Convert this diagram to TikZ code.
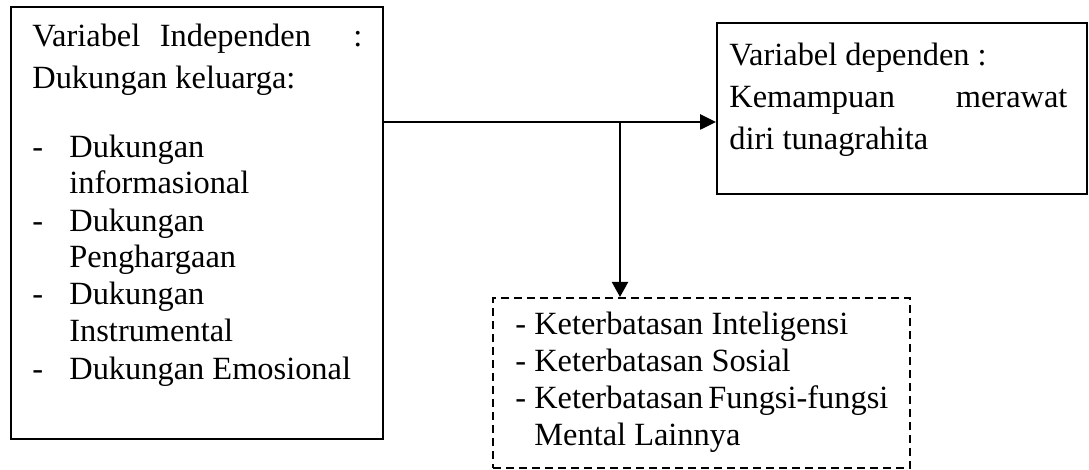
\documentclass[tikz,border=0pt]{standalone}
\usepackage{fontspec}
\setmainfont{Liberation Serif}
\usetikzlibrary{arrows.meta}
\newcommand{\tnrfont}{\fontsize{16.2pt}{18.5pt}\selectfont}
\tikzset{
  box/.style={draw=black, line width=1pt, rectangle, inner sep=0pt, fill=none},
  dbox/.style={box, dash pattern=on 4pt off 2.5pt},
  txt/.style={anchor=base west, inner sep=0pt, font=\tnrfont, text=black},
  conn/.style={draw=black, line width=1.3pt},
  vconn/.style={draw=black, line width=1pt},
  tip/.style={-{Triangle[length=8pt,width=7.5pt]}}
}
\begin{document}
\begin{tikzpicture}[x=0.5pt, y=-0.5pt]
\useasboundingbox (0,0) rectangle (1089,470);
% boxes
\node[box, minimum width=186pt, minimum height=216pt] (lb) at (197,223) {};
\node[box, minimum width=185pt, minimum height=85.5pt] (rb) at (902,108.5) {};
\node[dbox, minimum width=208.5pt, minimum height=85pt] (db) at (701.5,383) {};
% left box text
\node[txt] (l1) at (32,47) {\makebox[165pt][l]{Variabel\hspace{9.75pt}Independen\hfill:}};
\node[txt] (l2) at (32,89) {Dukungan keluarga:};
\node[txt] (d1) at (32,158) {-};
\node[txt] (l3) at (69,158) {Dukungan};
\node[txt] (l4) at (69,194) {informasional};
\node[txt] (d2) at (32,232) {-};
\node[txt] (l5) at (69,232) {Dukungan};
\node[txt] (l6) at (69,268) {Penghargaan};
\node[txt] (d3) at (32,305) {-};
\node[txt] (l7) at (69,305) {Dukungan};
\node[txt] (l8) at (69,342) {Instrumental};
\node[txt] (d4) at (32,380) {-};
\node[txt] (l9) at (69,380) {Dukungan Emosional};
% right box text
\node[txt] (r1) at (729,66) {Variabel dependen :};
\node[txt] (r2) at (729,108) {\makebox[169pt][l]{Kemampuan\hfill merawat}};
\node[txt] (r3) at (729,150) {diri tunagrahita};
% dashed box text
\node[txt] (k1) at (515,335) {- Keterbatasan Inteligensi};
\node[txt] (k2) at (515,372) {- Keterbatasan Sosial};
\node[txt] (k3) at (515,409) {\makebox[186.5pt][l]{- Keterbatasan\hfill Fungsi-fungsi}};
\node[txt] (k4) at (534,446) {Mental Lainnya};
% connectors
\coordinate (j) at (620,122);
\draw[conn, tip] (lb.east |- j) -- (rb.west |- j);
\draw[vconn, -{Triangle[length=7.5pt,width=8pt]}] (j) -- (db.north -| j);
\end{tikzpicture}
\end{document}
